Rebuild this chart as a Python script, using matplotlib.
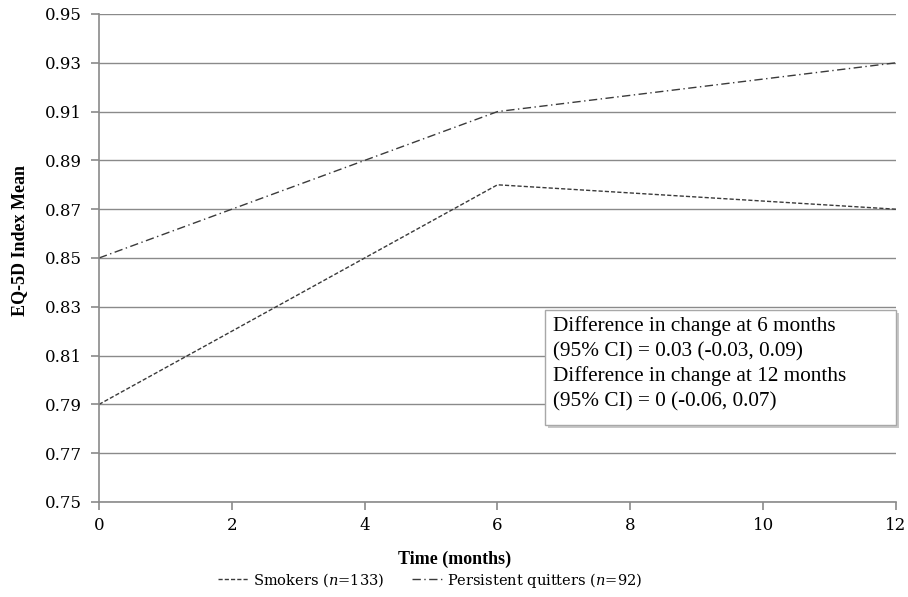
import matplotlib
matplotlib.use("Agg")
import matplotlib.pyplot as plt
from matplotlib.patches import Rectangle

plt.rcParams['font.family'] = ['Liberation Serif', 'DejaVu Serif']
plt.rcParams['mathtext.fontset'] = 'custom'
plt.rcParams['mathtext.it'] = 'DejaVu Serif:italic'
plt.rcParams['mathtext.rm'] = 'DejaVu Serif'

months = [0, 6, 12]
smokers = [0.79, 0.88, 0.87]
quitters = [0.85, 0.91, 0.93]
yticks = [0.75, 0.77, 0.79, 0.81, 0.83, 0.85, 0.87, 0.89, 0.91, 0.93, 0.95]
xticks = [0, 2, 4, 6, 8, 10, 12]
box_lines = ["Difference in change at 6 months", "(95% CI) = 0.03 (-0.03, 0.09)",
             "Difference in change at 12 months", "(95% CI) = 0 (-0.06, 0.07)"]

W, H = 908, 597
fig = plt.figure(figsize=(W/100, H/100), dpi=100)
ax = fig.add_axes([99/W, 1-502/H, (896-99)/W, (502-14)/H])

ax.plot(months, smokers, color='#3a3a3a', lw=1.0, linestyle=(0, (3, 1.5)),
        label='Smokers ($n$=133)')
ax.plot(months, quitters, color='#3a3a3a', lw=1.0, linestyle=(0, (6, 2.5, 1, 2.5)),
        label='Persistent quitters ($n$=92)')

ax.set_xlim(0, 12)
ax.set_ylim(0.75, 0.95)
ax.set_xticks(xticks)
ax.set_yticks(yticks)
ax.set_yticklabels([f"{v:.2f}" for v in yticks])
ax.yaxis.grid(True, color='#8a8a8a', lw=1.0)
ax.set_axisbelow(True)
for s in ['top', 'right']:
    ax.spines[s].set_visible(False)
for s in ['left', 'bottom']:
    ax.spines[s].set_color('#8a8a8a')
    ax.spines[s].set_linewidth(1.2)
ax.tick_params(axis='both', direction='out', color='#8a8a8a', length=5.5, width=1.2,
               labelsize=12)
ax.tick_params(axis='y', pad=7)
ax.tick_params(axis='x', pad=5)
for lab in ax.get_xticklabels() + ax.get_yticklabels():
    lab.set_family('DejaVu Serif')

fig.text(455/W, 1-559/H, 'Time (months)', fontsize=13, fontweight='bold',
         ha='center', va='center')
fig.text(20/W, 1-240/H, 'EQ-5D Index Mean', fontsize=13, fontweight='bold',
         ha='center', va='center', rotation=90)

# annotation box with soft shadow
bx0, bx1, by0, by1 = 545, 896, 310, 425
fig.patches.append(Rectangle(((bx0+3)/W, 1-(by1+3)/H), (bx1-bx0)/W, (by1-by0)/H,
                             transform=fig.transFigure, facecolor='#c8c8c8',
                             edgecolor='none', zorder=5))
fig.patches.append(Rectangle((bx0/W, 1-by1/H), (bx1-bx0)/W, (by1-by0)/H,
                             transform=fig.transFigure, facecolor='white',
                             edgecolor='#a8a8a8', lw=1.0, zorder=6))
for i, line in enumerate(box_lines):
    fig.text(553/W, 1-(331+25*i)/H, line, fontsize=15.3, ha='left', va='baseline',
             zorder=7)

fig.legend(loc='center', bbox_to_anchor=(430/W, 1-580/H), ncol=2, frameon=False,
           prop={'family': 'DejaVu Serif', 'size': 10.5}, handlelength=2.1,
           columnspacing=1.9, handletextpad=0.3)

fig.savefig('out.png', dpi=100)
